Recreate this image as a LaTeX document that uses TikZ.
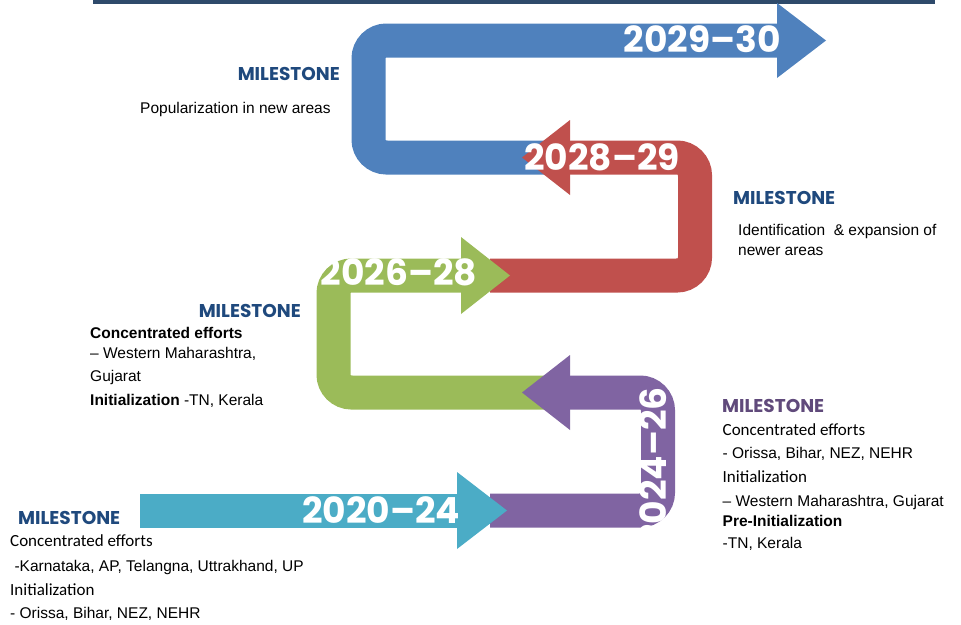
\documentclass[tikz,border=0pt]{standalone}
\usepackage{fontspec}
\setmainfont{Liberation Sans}
\newfontfamily\popfont{Poppins}
\newfontfamily\carfont{Carlito}
\definecolor{barblue}{HTML}{2E4A6B}
\definecolor{stblue}{HTML}{4F81BD}
\definecolor{stred}{HTML}{C0504D}
\definecolor{stgreen}{HTML}{9BBB59}
\definecolor{stpurple}{HTML}{8064A2}
\definecolor{stcyan}{HTML}{4BACC6}
\definecolor{mileblue}{HTML}{1F497D}
\definecolor{milepurple}{HTML}{604A7B}
\begin{document}
\begin{tikzpicture}[x=1pt,y=-1pt,
	band/.style={draw=#1,line width=34pt,rounded corners=18pt},
	yearlbl/.style={text=white,inner sep=0pt,font=\popfont\bfseries\fontsize{36}{36}\selectfont},
	mile/.style={text=mileblue,inner sep=0pt,font=\popfont\bfseries\fontsize{18.5}{18}\selectfont},
	txt/.style={inner sep=0pt,anchor=base west,font=\fontsize{15.5}{18}\selectfont},
	ctxt/.style={inner sep=0pt,anchor=base west,font=\carfont\fontsize{17}{18}\selectfont}]
	\useasboundingbox (0,0) rectangle (961,624);
	\fill[barblue] (93,0) rectangle (935,4);
	% 2029-30
	\draw[band=stblue] (545,157.5) -- (368.5,157.5) -- (368.5,40.5) -- (778,40.5);
	\fill[stblue] (777,3) -- (826,40.5) -- (777,78) -- cycle;
	% 2028-29
	\draw[band=stred] (569,157.5) -- (695,157.5) -- (695,275.5) -- (490,275.5);
	\fill[stred] (570,120) -- (522,157.5) -- (570,195) -- cycle;
	% 2026-28
	\draw[band=stgreen] (545,392.5) -- (333.5,392.5) -- (333.5,275.5) -- (462,275.5);
	\fill[stgreen] (461,237) -- (510,275.5) -- (461,314) -- cycle;
	% 2024-26
	\draw[band=stpurple] (569,392.5) -- (658,392.5) -- (658,510.5) -- (490,510.5);
	\fill[stpurple] (570,355) -- (522,392.5) -- (570,430) -- cycle;
	% 2020-24
	\draw[band=stcyan] (140,510.5) -- (458,510.5);
	\fill[stcyan] (457,472) -- (507,510.5) -- (457,549) -- cycle;
	% year labels
	\node[yearlbl] (y2930) at (702,39.5) {2029–30};
	\node[yearlbl] (y2829) at (602,157) {2028–29};
	\node[yearlbl] (y2628) at (399,272.5) {2026–28};
	\node[yearlbl,rotate=90] (y2426) at (653.5,466) {2024–26};
	\node[yearlbl] (y2024) at (381,510) {2020–24};
	% milestone texts
	\node[mile,anchor=base east] (m5) at (340,80) {MILESTONE};
	\node[txt] (m5a) at (140,113) {Popularization in new areas};
	\node[mile,anchor=base west] (m4) at (733,204) {MILESTONE};
	\node[txt] (m4a) at (738,235) {Identification~ \& expansion of};
	\node[txt] (m4b) at (738,255) {newer areas};
	\node[mile,anchor=base east] (m3) at (301,317) {MILESTONE};
	\node[txt,font=\bfseries\fontsize{15.5}{18}\selectfont] (m3a) at (90,338) {Concentrated efforts};
	\node[txt] (m3b) at (90,358) {– Western Maharashtra,};
	\node[txt] (m3c) at (90,381) {Gujarat};
	\node[txt] (m3d) at (90,405) {\textbf{Initialization} -TN, Kerala};
	\node[mile,anchor=base west,text=milepurple] (m2) at (722,412.5) {MILESTONE};
	\node[ctxt] (m2a) at (722.5,435) {Concentrated efforts};
	\node[txt] (m2b) at (722.5,458) {- Orissa, Bihar, NEZ, NEHR};
	\node[ctxt] (m2c) at (722.5,482.5) {Initialization};
	\node[txt] (m2d) at (722.5,506.5) {– Western Maharashtra, Gujarat};
	\node[txt,font=\bfseries\fontsize{15.5}{18}\selectfont] (m2e) at (722.5,526.5) {Pre-Initialization};
	\node[txt] (m2f) at (722.5,548) {-TN, Kerala};
	\node[mile,anchor=base west] (m1) at (18,524) {MILESTONE};
	\node[ctxt] (m1a) at (10,546.5) {Concentrated efforts};
	\node[txt] (m1b) at (10,571.5) {\ -Karnataka, AP, Telangna, Uttrakhand, UP};
	\node[ctxt] (m1c) at (10,595) {Initialization};
	\node[txt] (m1d) at (10,618) {- Orissa, Bihar, NEZ, NEHR};
\end{tikzpicture}
\end{document}
